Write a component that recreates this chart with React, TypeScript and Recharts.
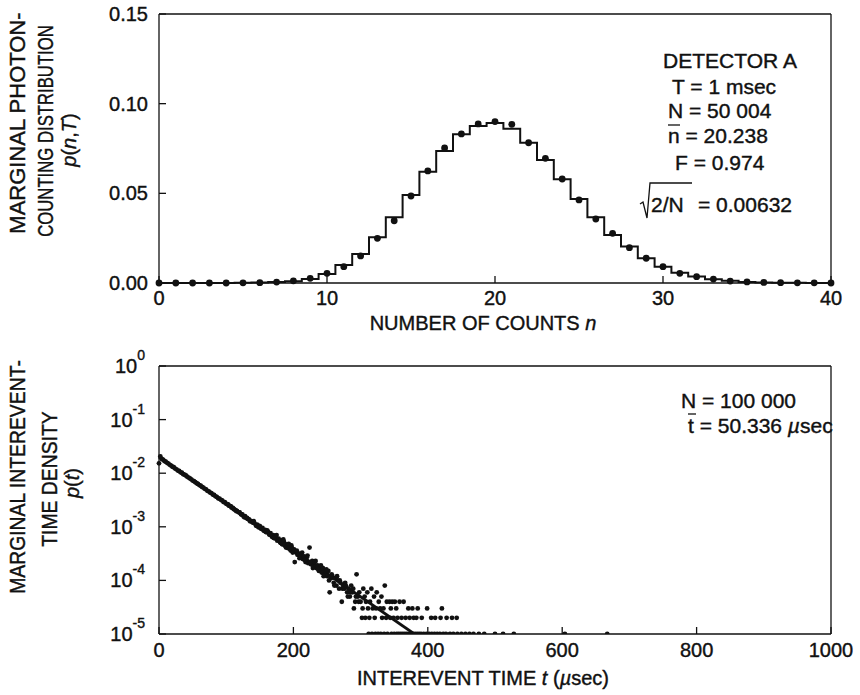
import React from 'react';
import { ComposedChart, Line, Scatter, XAxis, YAxis } from 'recharts';

const FONT = '"Liberation Sans", Arial, Helvetica, sans-serif';
const INK = '#111';

// ---- top panel: photon counts in T = 1 msec, n = 0..40 (index = n)
const countTicks = [0, 10, 20, 30, 40];
const probTicks = [0, 0.05, 0.1, 0.15];
const measuredP = [
  0, 0, 0, 0, 0, 0.0001, 0.0002, 0.0005, 0.0012, 0.0026,
  0.0054, 0.0091, 0.0151, 0.0249, 0.0347, 0.0485, 0.0625, 0.0753, 0.0831, 0.0887,
  0.09, 0.0885, 0.0782, 0.0695, 0.058, 0.0463, 0.0357, 0.0277, 0.0197, 0.0138,
  0.0091, 0.0054, 0.0035, 0.0022, 0.0011, 0.0006, 0.0003, 0.0002, 0.0001, 0.0001,
  0,
];
const fittedP = [
  0, 0, 0, 0, 0, 0.0001, 0.0003, 0.0005, 0.001, 0.0022,
  0.005, 0.01, 0.0162, 0.0255, 0.0366, 0.0491, 0.0621, 0.0736, 0.0829, 0.0876,
  0.0892, 0.086, 0.0782, 0.0686, 0.0578, 0.0468, 0.0366, 0.0268, 0.0203, 0.0138,
  0.0091, 0.0057, 0.0036, 0.0021, 0.0012, 0.0006, 0.0003, 0.0002, 0.0001, 0,
  0,
];

// ---- bottom panel: interevent times, 1 usec bins, p = count / N
const timeTicks = [0, 200, 400, 600, 800, 1000];
const decadeExps = [-5, -4, -3, -2, -1, 0];
const TOTAL_EVENTS = 100000;
// counts at t = 0, 2, 4 ... 300 usec
const evenBinCounts = [
  1530, 2050, 1850, 1790, 1690, 1640, 1560, 1510, 1430, 1390,
  1320, 1290, 1220, 1180, 1120, 1100, 1040, 1020, 960, 935,
  905, 860, 830, 800, 770, 730, 710, 680, 650, 630,
  600, 585, 555, 540, 510, 500, 470, 460, 435, 425,
  400, 392, 370, 362, 340, 335, 318, 310, 290, 287,
  268, 265, 248, 244, 228, 226, 212, 205, 198, 188,
  186, 172, 171, 156, 158, 146, 140, 138, 126, 128,
  120, 117, 108, 110, 98, 103, 92, 95, 84, 88,
  80, 81, 72, 76, 66, 70, 61, 64, 55, 60,
  52, 56, 47, 52, 44, 47, 40, 44, 36, 40,
  35,
  22, 33, 30, 32, 28, 30, 25, 28, 22, 27,
  21, 41, 20, 23, 18, 22, 17, 19, 15, 18,
  14, 17, 13, 15, 12, 15, 6, 11, 12, 9,
  11, 8, 10, 7, 9, 4, 8, 7, 8, 6,
  7, 5, 8, 6, 3, 4, 13, 5, 6, 4,
];
const oddBinTimes = [
  103, 107, 111, 115, 119, 123, 127, 131, 135, 139, 141, 145, 149, 151, 155, 159, 161, 165,
  169, 171, 175, 179, 181, 183, 185, 187, 189, 191, 193, 195, 197, 199, 201, 205, 209, 213,
  217, 221, 225, 229, 233, 237, 241, 245, 249, 253, 257, 261, 265, 269, 273, 277, 281, 285,
  289, 293, 297,
];
const oddBinCounts = [
  258, 240, 215, 196, 186, 168, 150, 147, 130, 121, 128, 104, 104, 95, 88, 80, 86, 71,
  64, 62, 70, 56, 50, 48, 58, 46, 41, 45, 48, 38, 45, 33, 38, 36, 26, 33,
  24, 29, 22, 17, 23, 16, 19, 12, 16, 10, 13, 8, 12, 10, 7, 9, 5, 6,
  7, 5, 4,
];
// sparse tail, grouped by count per bin
const tailOnes = [
  312, 317, 322, 326, 330, 335, 340, 346, 350, 354, 357, 360, 363, 366, 369, 372, 375, 378,
  381, 384, 387, 390, 394, 398, 402, 406, 410, 414, 418, 423, 427, 433, 438, 444, 450, 456,
  462, 468, 476, 484, 500, 512, 528, 604, 667,
];
const tailTwos = [
  302, 307, 313, 321, 332, 338, 344, 349, 355, 361, 367, 373, 379, 383, 391, 405, 411, 419,
  428, 436, 443,
];
const tailThrees = [303, 311, 318, 323, 329, 334, 345, 353, 371, 377, 385, 399, 421];
const tailFours = [308, 314, 327, 339, 343, 347, 351, 358, 364];
const tailFives = [306, 320, 331];
const tailSixes = [310, 324];
const tailSevens = [304, 316];
const tailEights = [336];
const fitLineTimes = [0, 380];
const fitLineDensity = [0.0199, 0.00001];

const countData = measuredP.map((p, n) => ({ n, p }));
const stepData = fittedP.map((p, n) => ({ n, p }));

const tailRows: [number, number[]][] = [
  [1, tailOnes], [2, tailTwos], [3, tailThrees], [4, tailFours],
  [5, tailFives], [6, tailSixes], [7, tailSevens], [8, tailEights],
];
const densityData = [
  ...evenBinCounts.map((c, i) => ({ t: i * 2, p: c / TOTAL_EVENTS })),
  ...oddBinTimes.map((t, i) => ({ t, p: oddBinCounts[i] / TOTAL_EVENTS })),
  ...tailRows.flatMap(([c, times]) => times.map((t) => ({ t, p: c / TOTAL_EVENTS }))),
];
const fitLineData = fitLineTimes.map((t, i) => ({ t, p: fitLineDensity[i] }));
const decadeTicks = decadeExps.map((e) => Math.pow(10, e));

const axisStroke = { stroke: INK, strokeWidth: 1.3 };
const tickText = { fontSize: 20, fill: INK, fontFamily: FONT, stroke: INK, strokeWidth: 0.4 };

const PowerTick = (props: any) => {
  const { x, y, payload } = props;
  const exp = Math.round(Math.log10(payload.value));
  return (
    <text x={x} y={y} dy={7} textAnchor="end" fontSize={20} fill={INK} stroke={INK} strokeWidth={0.4}
      fontFamily={FONT}>
      10<tspan dy={-13} fontSize={14}>{exp}</tspan>
    </text>
  );
};

const bigDot = (p: any) => <circle cx={p.cx} cy={p.cy} r={3.4} fill={INK} />;
const smallDot = (p: any) => <circle cx={p.cx} cy={p.cy} r={2.4} fill={INK} />;

const CountsPanel = () => (
  <ComposedChart width={860} height={340} margin={{ top: 4, right: 19, bottom: 27, left: 99 }}>
    <XAxis xAxisId="b" type="number" dataKey="n" domain={[0, 40]} ticks={countTicks} height={30}
      tickSize={-7} tickMargin={15} axisLine={axisStroke} tickLine={axisStroke} tick={tickText} />
    <XAxis xAxisId="t" orientation="top" type="number" domain={[0, 40]} ticks={countTicks} height={10}
      tickSize={-7} axisLine={axisStroke} tickLine={axisStroke} tick={false} />
    <YAxis yAxisId="l" type="number" dataKey="p" domain={[0, 0.15]} ticks={probTicks} width={60}
      tickFormatter={(v: number) => v.toFixed(2)} tickSize={-7} tickMargin={18}
      axisLine={axisStroke} tickLine={axisStroke} tick={tickText} />
    <YAxis yAxisId="r" orientation="right" type="number" domain={[0, 0.15]} ticks={probTicks} width={10}
      tickSize={-7} axisLine={axisStroke} tickLine={axisStroke} tick={false} />
    <Line xAxisId="b" yAxisId="l" data={stepData} dataKey="p" type="step" stroke={INK}
      strokeWidth={2} dot={false} isAnimationActive={false} />
    <Scatter xAxisId="b" yAxisId="l" data={countData} dataKey="p" shape={bigDot} isAnimationActive={false} />
  </ComposedChart>
);

const IntervalPanel = () => (
  <ComposedChart width={860} height={355} margin={{ top: 16, right: 19, bottom: 31, left: 99 }}>
    <XAxis xAxisId="b" type="number" dataKey="t" domain={[0, 1000]} ticks={timeTicks} height={30}
      tickSize={-7} tickMargin={16} axisLine={axisStroke} tickLine={axisStroke} tick={tickText} />
    <XAxis xAxisId="t" orientation="top" type="number" domain={[0, 1000]} ticks={timeTicks} height={10}
      tickSize={-7} axisLine={axisStroke} tickLine={axisStroke} tick={false} />
    <YAxis yAxisId="l" type="number" dataKey="p" scale="log" domain={[1e-5, 1]} allowDataOverflow
      ticks={decadeTicks} width={60} tickSize={-7} tickMargin={21}
      axisLine={axisStroke} tickLine={axisStroke} tick={<PowerTick />} />
    <YAxis yAxisId="r" orientation="right" type="number" scale="log" domain={[1e-5, 1]} allowDataOverflow
      ticks={decadeTicks} width={10} tickSize={-7} axisLine={axisStroke} tickLine={axisStroke} tick={false} />
    <Scatter xAxisId="b" yAxisId="l" data={densityData} dataKey="p" shape={smallDot} isAnimationActive={false} />
    <Line xAxisId="b" yAxisId="l" data={fitLineData} dataKey="p" type="linear" stroke={INK}
      strokeWidth={2.8} dot={false} isAnimationActive={false} />
  </ComposedChart>
);

const Labels = () => (
  <svg width={860} height={695} style={{ position: 'absolute', left: 0, top: 0, pointerEvents: 'none' }}
    fontFamily={FONT} fill={INK} stroke={INK} strokeWidth={0.4}>
    {/* top panel titles */}
    <text transform="translate(25,123) rotate(-90)" textAnchor="middle" fontSize={22}>MARGINAL PHOTON-</text>
    <text transform="translate(53,131) rotate(-90) scale(0.76,1)" textAnchor="middle" fontSize={22}>
      COUNTING DISTRIBUTION
    </text>
    <text transform="translate(76,140) rotate(-90)" textAnchor="middle" fontSize={20}>
      <tspan fontStyle="italic">p</tspan>(<tspan fontStyle="italic">n</tspan>,<tspan fontStyle="italic">T</tspan>)
    </text>
    <text x={483} y={330} textAnchor="middle" fontSize={20}>
      NUMBER OF COUNTS <tspan fontStyle="italic">n</tspan>
    </text>

    <text x={730} y={68} textAnchor="middle" fontSize={21}>DETECTOR A</text>
    <text x={672} y={94} fontSize={21}>T = 1 msec</text>
    <text x={668} y={118} fontSize={21}>N = 50 004</text>
    <line x1={668} x2={680} y1={125} y2={125} stroke={INK} strokeWidth={1.3} />
    <text x={668} y={143} fontSize={21}>n = 20.238</text>
    <text x={675} y={170} fontSize={21}>F = 0.974</text>
    <path d="M640 204 L643 202 L647 218 L650 183 L692 183" fill="none" stroke={INK} strokeWidth={1.3} />
    <text x={651} y={212} fontSize={21}>2/N</text>
    <text x={698} y={212} fontSize={21}>= 0.00632</text>

    {/* bottom panel titles */}
    <text transform="translate(25,477) rotate(-90) scale(0.88,1)" textAnchor="middle" fontSize={22}>
      MARGINAL INTEREVENT-
    </text>
    <text transform="translate(57,479) rotate(-90) scale(0.88,1)" textAnchor="middle" fontSize={22}>
      TIME DENSITY
    </text>
    <text transform="translate(79,483) rotate(-90)" textAnchor="middle" fontSize={20}>
      <tspan fontStyle="italic">p</tspan>(<tspan fontStyle="italic">t</tspan>)
    </text>
    <text x={483} y={685} textAnchor="middle" fontSize={20}>
      INTEREVENT TIME <tspan fontStyle="italic">t</tspan> (<tspan fontStyle="italic">µ</tspan>sec)
    </text>

    <text x={681} y={408} fontSize={21}>N = 100 000</text>
    <line x1={688} x2={696} y1={414} y2={414} stroke={INK} strokeWidth={1.3} />
    <text x={688} y={433} fontSize={21}>t = 50.336 <tspan fontStyle="italic">µ</tspan>sec</text>
  </svg>
);

export default function App() {
  return (
    <div style={{ position: 'absolute', left: 0, top: 0, width: 860, height: 695, background: '#fff' }}>
      <div style={{ position: 'absolute', left: 0, top: 0 }}>
        <CountsPanel />
      </div>
      <div style={{ position: 'absolute', left: 0, top: 340 }}>
        <IntervalPanel />
      </div>
      <Labels />
    </div>
  );
}
